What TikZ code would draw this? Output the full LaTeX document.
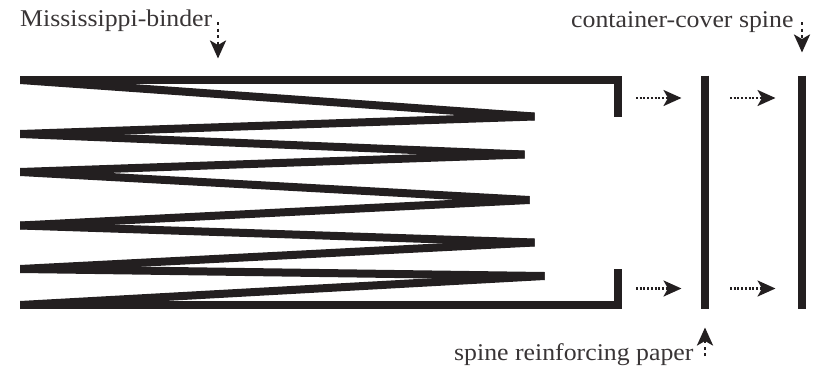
\documentclass[tikz,border=0pt]{standalone}
\usepackage{fontspec}
\setmainfont[FakeStretch=1.075]{Liberation Serif}
\usetikzlibrary{arrows.meta}
\definecolor{ink}{HTML}{231F20}
\tikzset{
  x=1pt,y=-1pt,
  lbl/.style={anchor=base west,inner sep=0pt,text=ink!90,font=\fontsize{24}{28}\selectfont},
  thick bar/.style={draw=ink,line width=8pt,line cap=butt,miter limit=10},
  band/.style={fill=ink},
  arrowbase/.style={draw=ink,-{Stealth[length=18pt,width=16pt,inset=4.5pt,fill=ink]}},
  dotarrow/.style={arrowbase,line width=2.4pt,dash pattern=on 2pt off 1.7pt},
  dotarrowv/.style={arrowbase,line width=2.8pt,dash pattern=on 3pt off 3.5pt}
}
\newcommand{\fold}[4]{\fill[band] (#1,#2-4)--(#1,#2+4)--(#3,#4+4)--(#3,#4-4)--cycle;}
\begin{document}
\begin{tikzpicture}
\useasboundingbox (0,0) rectangle (820,375);
% binder frame
\draw[thick bar] (20,80) -- (617.5,80) -- (617.5,116.5);
\draw[thick bar] (20,305) -- (617.5,305) -- (617.5,269);
% folded signatures
\fold{20}{80}{534.5}{116.5}
\fold{534.5}{116.5}{20}{134}
\fold{20}{134}{524.5}{154.5}
\fold{524.5}{154.5}{20}{172}
\fold{20}{172}{529.5}{200}
\fold{529.5}{200}{20}{225.5}
\fold{20}{225.5}{534.5}{242.5}
\fold{534.5}{242.5}{20}{269}
\fold{20}{269}{544.5}{276}
\fold{544.5}{276}{20}{305}
% spines
\draw[thick bar] (705,75.5) -- (705,309);
\draw[thick bar] (801.7,75.5) -- (801.7,309);
% labels
\node[lbl] (binder) at (20,26) {Mississippi-binder};
\node[lbl] (cover) at (571,27) {container-cover spine};
\node[lbl] (paper) at (454,360) {spine reinforcing paper};
% arrow ends
\coordinate (b1) at (218,22); \coordinate (b2) at (218,58.5);
\coordinate (c1) at (802,22); \coordinate (c2) at (802,52.5);
\coordinate (p1) at (705,356); \coordinate (p2) at (705,327.5);
\coordinate (h1a) at (636,98); \coordinate (h1b) at (681.5,98);
\coordinate (h2a) at (730,98); \coordinate (h2b) at (775.5,98);
\coordinate (h3a) at (636,288.5); \coordinate (h3b) at (681.5,288.5);
\coordinate (h4a) at (730,288.5); \coordinate (h4b) at (775.5,288.5);
\draw[dotarrowv] (b1) -- (b2);
\draw[dotarrowv] (c1) -- (c2);
\draw[dotarrowv] (p1) -- (p2);
\draw[dotarrow] (h1a) -- (h1b);
\draw[dotarrow] (h2a) -- (h2b);
\draw[dotarrow] (h3a) -- (h3b);
\draw[dotarrow] (h4a) -- (h4b);
\end{tikzpicture}
\end{document}
